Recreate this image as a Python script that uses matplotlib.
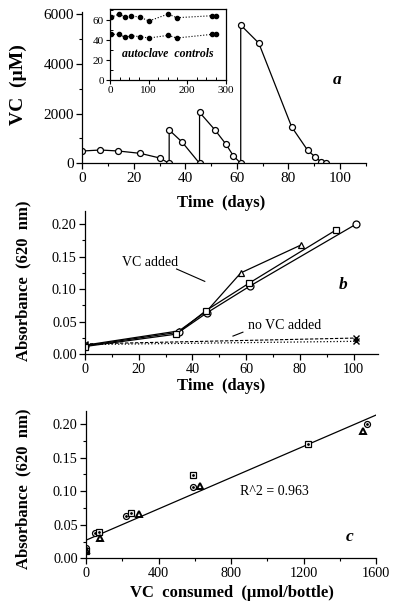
import matplotlib
matplotlib.use("Agg")
import matplotlib.pyplot as plt
from matplotlib.ticker import MultipleLocator
import numpy as np

plt.rcParams['font.family'] = ['Liberation Serif', 'DejaVu Serif']
plt.rcParams['axes.linewidth'] = 0.9

# ---------------- data ----------------
# panel a: VC concentration over time
time_a = [0, 7, 14, 22.5, 30, 33.7, 33.7, 38.7, 45.5, 45.5, 51.5, 55.7, 58.6,
          61.5, 61.5, 68.5, 81.3, 87.5, 90.3, 92.6, 94.8]
vc_a = [495, 535, 495, 400, 215, 0, 1340, 857, 0, 2050, 1340, 777, 308,
        0, 5556, 4833, 1460, 522, 268, 67, 27]

# inset: autoclave controls
inset_days = [2, 24, 39, 55, 79, 101, 151, 173, 265, 274]
inset_upper = [63, 66.3, 63, 64.6, 63, 59.3, 66.3, 62.6, 64.6, 64.6]
inset_lower = [45.9, 45.9, 42.9, 44.5, 43.5, 42.2, 44.9, 42.2, 45.9, 45.9]

# panel b: absorbance over time
tri_days = [0, 35, 45.5, 58, 80.5]
tri_abs = [0.014, 0.036, 0.067, 0.125, 0.168]
sq_days = [0, 34, 45, 61, 93.5]
sq_abs = [0.012, 0.031, 0.067, 0.109, 0.191]
circ_days = [0, 35, 45.5, 61.5, 101]
circ_abs = [0.013, 0.034, 0.064, 0.105, 0.200]
novc_days = [0, 101]
novc_dashed = [0.016, 0.025]
novc_dotted = [0.015, 0.020]

# panel c: absorbance vs VC consumed
c_circ_x = [0, 48, 219, 592, 1552]
c_circ_y = [0.015, 0.037, 0.0635, 0.107, 0.200]
c_sq_x = [0, 73, 248, 592, 1226]
c_sq_y = [0.011, 0.039, 0.068, 0.124, 0.170]
c_tri_x = [0, 77, 294, 629, 1530]
c_tri_y = [0.012, 0.031, 0.066, 0.108, 0.190]
fit_intercept = 0.027
fit_slope = 1.165e-4
fit_range = [0, 1600]
r2_text = "R^2 = 0.963"

# ---------------- figure ----------------
fig = plt.figure(figsize=(4.0, 6.11), dpi=100)

LABEL_FS = 12


def style(ax, fs):
    for s in ('top', 'right'):
        ax.spines[s].set_visible(False)
    ax.tick_params(which='major', direction='out', length=4, width=0.9,
                   labelsize=fs, pad=2)
    ax.tick_params(which='minor', direction='out', length=2.5, width=0.8)


# ----- panel a -----
axa = fig.add_axes([0.206, 0.7327, 0.708, 0.248])
axa.plot(time_a, vc_a, '-o', color='black', lw=0.9, ms=4.3,
         mfc='white', mec='black', mew=0.9)
axa.set_xlim(0, 110)
axa.set_ylim(0, 6090)
axa.xaxis.set_major_locator(MultipleLocator(20))
axa.xaxis.set_minor_locator(MultipleLocator(10))
axa.yaxis.set_major_locator(MultipleLocator(2000))
axa.yaxis.set_minor_locator(MultipleLocator(1000))
style(axa, 11)
axa.text(98.8, 3350, 'a', fontsize=12.5, fontweight='bold', style='italic',
         ha='center', va='center')

# inset
axi = fig.add_axes([0.275, 0.869, 0.289, 0.1157])
axi.plot(inset_days, inset_upper, ':o', color='black', lw=0.8, ms=3.0)
axi.plot(inset_days, inset_lower, ':o', color='black', lw=0.8, ms=3.0)
axi.set_xlim(0, 300)
axi.set_ylim(0, 71)
axi.xaxis.set_major_locator(MultipleLocator(100))
axi.xaxis.set_minor_locator(MultipleLocator(25))
axi.yaxis.set_major_locator(MultipleLocator(20))
axi.yaxis.set_minor_locator(MultipleLocator(10))
axi.tick_params(which='major', direction='out', length=3, width=0.8,
                labelsize=8, pad=1.5)
axi.tick_params(which='minor', direction='in', length=2, width=0.7)
axi.text(150, 26, 'autoclave  controls', fontsize=8.5, fontweight='bold',
         style='italic', ha='center', va='center')

fig.text(0.045, 0.862, 'VC  (\u00b5M)', rotation=90, fontsize=14,
         fontweight='bold', ha='center', va='center')
fig.text(0.552, 0.668, 'Time  (days)', fontsize=LABEL_FS, fontweight='bold',
         ha='center', va='center')

# ----- panel b -----
axb = fig.add_axes([0.2125, 0.4201, 0.7318, 0.2345])
mk = dict(color='black', lw=0.9, ms=5, mfc='white', mec='black', mew=0.9)
axb.plot(novc_days, novc_dashed, '--x', color='black', lw=0.8, ms=4,
         dashes=(3, 1.5))
axb.plot(novc_days, novc_dotted, ':x', color='black', lw=0.9, ms=4)
axb.plot(tri_days, tri_abs, '-^', **mk)
axb.plot(circ_days, circ_abs, '-o', **mk)
axb.plot(sq_days, sq_abs, '-s', **mk)
axb.set_xlim(0, 109)
axb.set_ylim(0, 0.22)
axb.xaxis.set_major_locator(MultipleLocator(20))
axb.xaxis.set_minor_locator(MultipleLocator(10))
axb.yaxis.set_major_locator(MultipleLocator(0.05))
axb.yaxis.set_minor_locator(MultipleLocator(0.025))
axb.yaxis.set_major_formatter(matplotlib.ticker.FormatStrFormatter('%.2f'))
style(axb, 10.3)
axb.text(13.8, 0.141, 'VC added', fontsize=10, ha='left', va='center')
axb.plot([34.1, 44.6], [0.131, 0.112], color='black', lw=0.8)
axb.text(60.6, 0.045, 'no VC added', fontsize=10, ha='left', va='center')
axb.plot([55.1, 58.8], [0.028, 0.034], color='black', lw=0.8)
axb.text(96, 0.106, 'b', fontsize=12.5, fontweight='bold', style='italic',
         ha='center', va='center')

fig.text(0.0575, 0.54, 'Absorbance  (620  nm)', rotation=90,
         fontsize=LABEL_FS, fontweight='bold', ha='center', va='center')
fig.text(0.552, 0.369, 'Time  (days)', fontsize=LABEL_FS, fontweight='bold',
         ha='center', va='center')

# ----- panel c -----
axc = fig.add_axes([0.215, 0.0862, 0.725, 0.2417])
fx = np.array(fit_range, dtype=float)
axc.plot(fx, fit_intercept + fit_slope * fx, '-', color='black', lw=0.9)
mkc = dict(ls='none', ms=4.3, mfc='white', mec='black', mew=0.9)
axc.plot(c_circ_x, c_circ_y, marker='o', **mkc)
axc.plot(c_circ_x, c_circ_y, ls='none', marker='.', ms=2, color='black')
axc.plot(c_sq_x, c_sq_y, marker='s', **mkc)
axc.plot(c_sq_x, c_sq_y, ls='none', marker='.', ms=2, color='black')
axc.plot(c_tri_x, c_tri_y, ls='none', marker='^', ms=4.5, mfc='white',
         mec='black', mew=1.4)
axc.set_xlim(0, 1600)
axc.set_ylim(0, 0.22)
axc.xaxis.set_major_locator(MultipleLocator(400))
axc.xaxis.set_minor_locator(MultipleLocator(200))
axc.yaxis.set_major_locator(MultipleLocator(0.05))
axc.yaxis.set_minor_locator(MultipleLocator(0.025))
axc.yaxis.set_major_formatter(matplotlib.ticker.FormatStrFormatter('%.2f'))
style(axc, 10.3)
axc.text(849, 0.099, r2_text, fontsize=10, ha='left', va='center')
axc.text(1456, 0.032, 'c', fontsize=12.5, fontweight='bold', style='italic',
         ha='center', va='center')

fig.text(0.0575, 0.2, 'Absorbance  (620  nm)', rotation=90,
         fontsize=LABEL_FS, fontweight='bold', ha='center', va='center')
fig.text(0.581, 0.029, 'VC  consumed  (\u00b5mol/bottle)', fontsize=LABEL_FS,
         fontweight='bold', ha='center', va='center')

fig.savefig('out.png', dpi=100)
